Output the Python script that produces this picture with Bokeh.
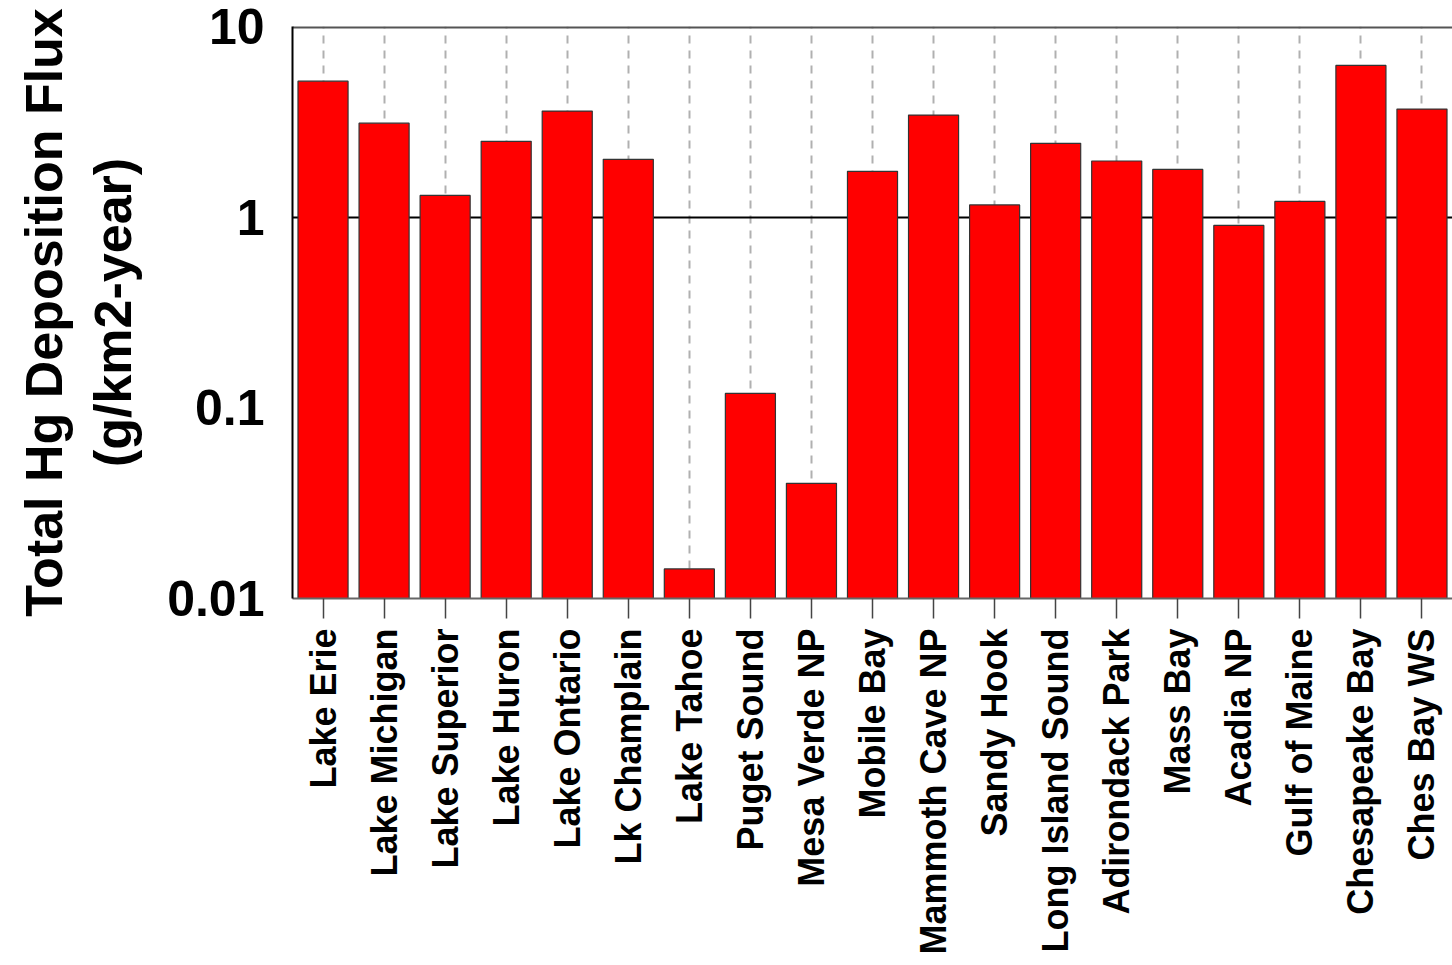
import math
from bokeh.plotting import figure
from bokeh.models import FixedTicker, ColumnDataSource
from bokeh.embed import file_html
from bokeh.resources import INLINE

sites = ["Lake Erie", "Lake Michigan", "Lake Superior", "Lake Huron", "Lake Ontario",
         "Lk Champlain", "Lake Tahoe", "Puget Sound", "Mesa Verde NP", "Mobile Bay",
         "Mammoth Cave NP", "Sandy Hook", "Long Island Sound", "Adirondack Park",
         "Mass Bay", "Acadia NP", "Gulf of Maine", "Chesapeake Bay", "Ches Bay WS"]
flux = [5.17, 3.11, 1.30, 2.50, 3.60, 2.01, 0.0143, 0.119, 0.0402, 1.74,
        3.43, 1.16, 2.44, 1.97, 1.78, 0.905, 1.21, 6.25, 3.69]
y_ticks = [0.01, 0.1, 1, 10]
y_tick_labels = {0.01: "0.01", 0.1: "0.1", 1: "1", 10: "10"}
y_title = "Total Hg Deposition Flux\n(g/km2-year)"

FONT = "Liberation Sans"

src = ColumnDataSource(dict(site=sites, flux=flux, base=[0.01] * len(sites)))

p = figure(x_range=sites, y_axis_type="log", y_range=(0.01, 10),
           width=1452, height=965, output_backend="svg", toolbar_location=None,
           min_border_left=292, min_border_top=26, min_border_right=0, min_border_bottom=367)

p.background_fill_color = "white"
p.border_fill_color = "white"
p.outline_line_color = None

# grids
p.xgrid.grid_line_color = "#b0b0b0"
p.xgrid.grid_line_dash = "8 7"
p.xgrid.grid_line_width = 2
p.ygrid.visible = False

p.hspan(y=[1], line_color="black", line_width=2)
p.hspan(y=[10], line_color="#555555", line_width=4)

p.vbar(x="site", top="flux", bottom="base", width=0.82, source=src,
       fill_color="#ff0000", line_color="#333333", line_width=1.2)

# y axis
ya = p.yaxis[0]
ya.ticker = FixedTicker(ticks=y_ticks, minor_ticks=[])
ya.major_label_overrides = y_tick_labels
ya.major_label_text_font = FONT
ya.major_label_text_font_style = "bold"
ya.major_label_text_font_size = "50px"
ya.major_label_text_color = "black"
ya.major_tick_out = 0
ya.major_tick_in = 0
ya.minor_tick_out = 0
ya.minor_tick_in = 0
ya.axis_line_color = "black"
ya.axis_line_width = 2
ya.major_label_standoff = 28
ya.axis_label = y_title
ya.axis_label_text_font = FONT
ya.axis_label_text_font_style = "bold"
ya.axis_label_text_font_size = "52px"
ya.axis_label_text_color = "black"
ya.axis_label_standoff = 22

# x axis
xa = p.xaxis[0]
xa.major_label_orientation = math.pi / 2
xa.major_label_text_font = FONT
xa.major_label_text_font_style = "bold"
xa.major_label_text_font_size = "36px"
xa.major_label_text_color = "black"
xa.major_tick_out = 20
xa.major_tick_in = 0
xa.major_tick_line_color = "#444444"
xa.major_tick_line_width = 1.5
xa.major_label_standoff = 10
xa.axis_line_color = "#666666"
xa.axis_line_width = 2

open("out.html", "w").write(file_html(p, INLINE))
